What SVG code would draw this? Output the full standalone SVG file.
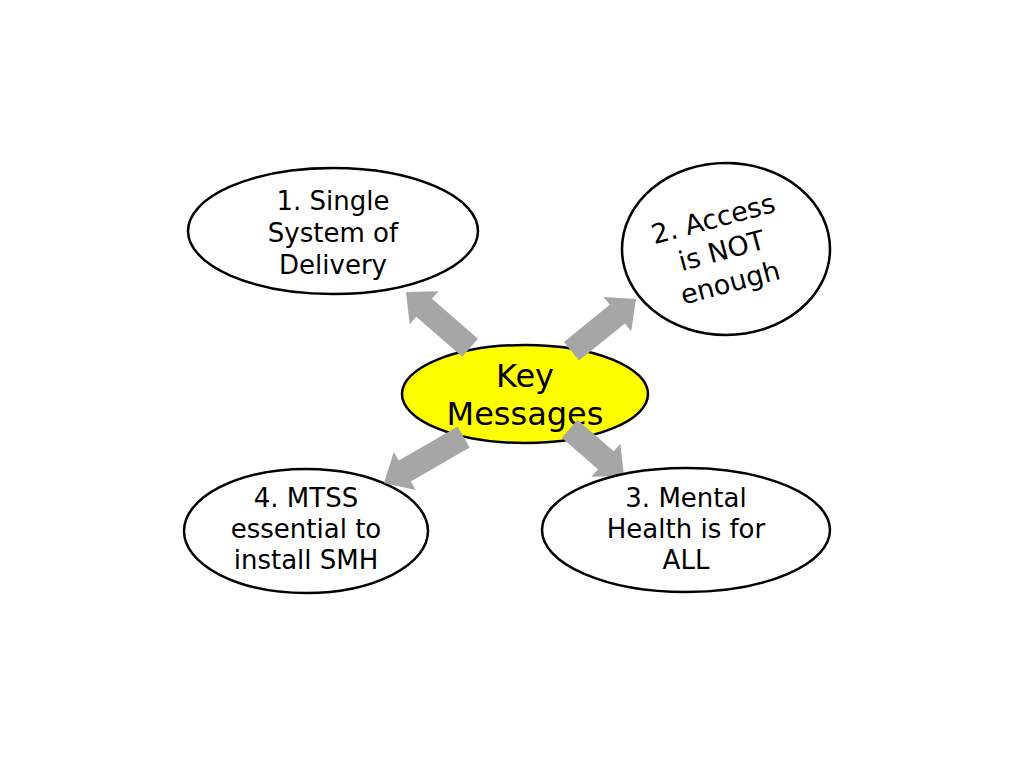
<svg xmlns="http://www.w3.org/2000/svg" width="1024" height="768" viewBox="0 0 1024 768">
<style>
.node{fill:#FFFFFF;stroke:#000000;stroke-width:2.5}
.center{fill:#FFFF00;stroke:#000000;stroke-width:2.5}
.lbl{font-family:"DejaVu Sans","Liberation Sans",sans-serif;font-size:26px;fill:#000000;text-anchor:middle}
.big{font-size:32px}
.n2{font-size:27px}
.arr{fill:#A6A6A6}
</style>
<rect width="1024" height="768" fill="#FFFFFF"/>
<g id="node-key">
<ellipse class="center" cx="525" cy="394" rx="123" ry="49"/>
<text class="lbl big" x="525" y="387">Key</text>
<text class="lbl big" x="525" y="425">Messages</text>
</g>
<g id="node-3">
<g id="connector-3" class="arr">
<polygon transform="translate(624,476) rotate(41)" points="0,0 -24,-22 -24,-12 -72,-12 -72,12 -24,12 -24,22"/>
</g>
<ellipse class="node" cx="686" cy="530" rx="144" ry="62"/>
<text class="lbl" x="686" y="507">3. Mental</text>
<text class="lbl" x="686" y="538">Health is for</text>
<text class="lbl" x="686" y="569">ALL</text>
</g>
<g id="node-1">
<ellipse class="node" cx="333" cy="231" rx="145" ry="63"/>
<text class="lbl" x="333" y="210">1. Single</text>
<text class="lbl" x="333" y="242">System of</text>
<text class="lbl" x="333" y="274">Delivery</text>
</g>
<g id="node-2">
<ellipse class="node" cx="726" cy="249" rx="104" ry="86"/>
<g transform="rotate(-15 722 252)">
<text class="lbl n2" x="722" y="227">2. Access</text>
<text class="lbl n2" x="722" y="260">is NOT</text>
<text class="lbl n2" x="722" y="293">enough</text>
</g>
</g>
<g id="node-4">
<ellipse class="node" cx="306" cy="531" rx="122" ry="62"/>
<text class="lbl" x="306" y="507">4. MTSS</text>
<text class="lbl" x="306" y="538">essential to</text>
<text class="lbl" x="306" y="569">install SMH</text>
</g>
<g id="connectors" class="arr">
<polygon transform="translate(406,292) rotate(221)" points="0,0 -24,-22 -24,-12 -85,-12 -85,12 -24,12 -24,22"/>
<polygon transform="translate(636,299) rotate(-39)" points="0,0 -24,-22 -24,-12 -83,-12 -83,12 -24,12 -24,22"/>
<polygon transform="translate(384,483) rotate(150)" points="0,0 -24,-22 -24,-12 -92,-12 -92,12 -24,12 -24,22"/>
</g>
</svg>
